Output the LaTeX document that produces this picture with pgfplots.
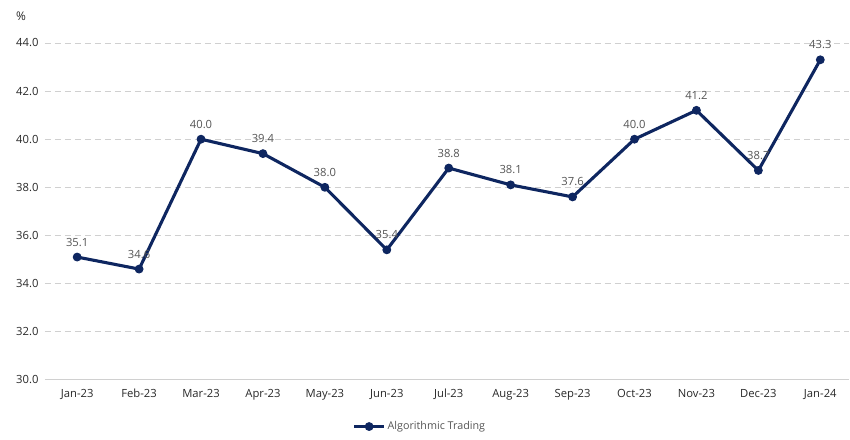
\documentclass[border=0pt]{standalone}
\usepackage{pgfplots}
\pgfplotsset{compat=1.18}
\usepackage{fontspec}
\setmainfont{Open Sans}
\usetikzlibrary{calc}
\definecolor{navy}{RGB}{14,38,96}
\definecolor{gridc}{RGB}{208,208,208}
\definecolor{labc}{RGB}{85,85,85}
\definecolor{tickc}{RGB}{40,40,40}
\begin{document}
\begin{tikzpicture}[x=1bp,y=1bp]
\begin{axis}[
  scale only axis,
  width=805bp, height=337bp,
  xmin=-0.52, xmax=12.47,
  ymin=30, ymax=44,
  axis x line*=bottom,
  axis y line*=left,
  x axis line style={draw=gridc, line width=1.2bp},
  y axis line style={draw=none},
  ytick={30,32,...,44},
  ymajorgrids,
  grid style={draw=gridc, dash pattern=on 6bp off 4bp, line width=0.9bp},
  xtick={0,...,12},
  xticklabels={Jan-23,Feb-23,Mar-23,Apr-23,May-23,Jun-23,Jul-23,Aug-23,Sep-23,Oct-23,Nov-23,Dec-23,Jan-24},
  major tick length=0pt,
  tick style={draw=none},
  xticklabel style={font=\fontsize{11.3}{13}\selectfont, text=tickc, yshift=-6bp},
  /pgf/number format/assume math mode=true,
  yticklabel style={font=\fontsize{11.3}{13}\selectfont, text=tickc, xshift=-3bp, /pgf/number format/.cd, fixed, precision=1, zerofill},
  clip=false,
  legend style={at={(0.466,-0.139)}, anchor=center, draw=none, fill=none,
    font=\fontsize{10.8}{12}\selectfont, text=labc, inner sep=0pt},
  legend image code/.code={
    \draw[mark repeat=2,mark phase=2] plot coordinates {(0bp,0bp)(15bp,0bp)(30bp,0bp)};
  },
]
\addplot[color=navy, line width=3.1bp, mark=*, mark size=3.9bp,
  mark options={fill=navy, line width=1bp},
  nodes near coords,
  nodes near coords style={font=\fontsize{11.3}{13}\selectfont, text=labc, anchor=south, yshift=7bp,
    /pgf/number format/.cd, fixed, precision=1, zerofill},
] coordinates {
(0,35.1) (1,34.6) (2,40.0) (3,39.4) (4,38.0) (5,35.4) (6,38.8)
(7,38.1) (8,37.6) (9,40.0) (10,41.2) (11,38.7) (12,43.3)
};
\addlegendentry{Algorithmic Trading}
\coordinate (ll) at (rel axis cs:0,0);
\node[font=\fontsize{12}{13}\selectfont, text=tickc] at ($(rel axis cs:0,1)+(-24bp,27bp)$) {\%};
\end{axis}
\path[use as bounding box] ($(ll)+(-45bp,-60bp)$) rectangle ($(ll)+(805bp,380bp)$);
\end{tikzpicture}
\end{document}
